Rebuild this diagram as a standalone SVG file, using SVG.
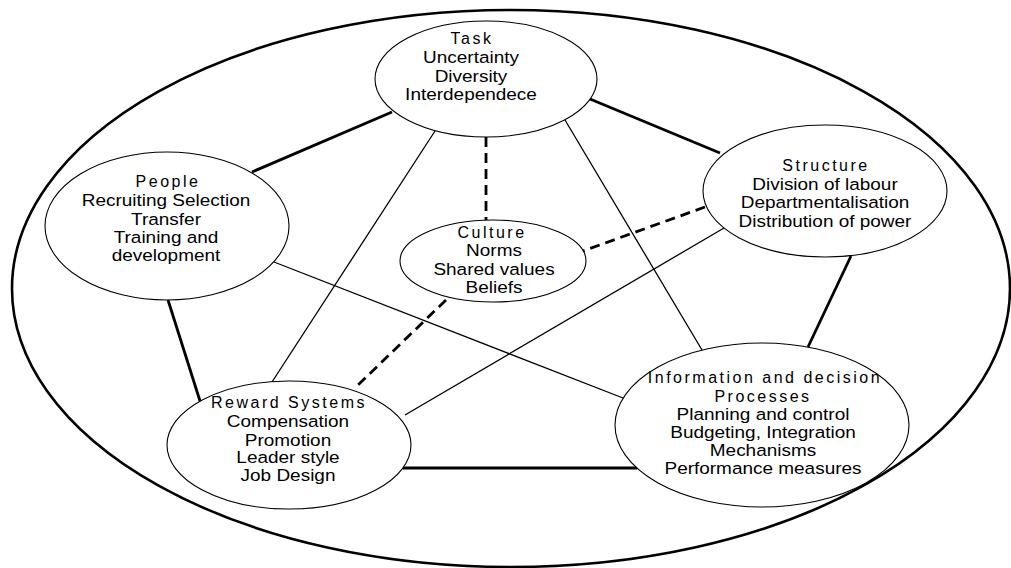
<svg xmlns="http://www.w3.org/2000/svg" width="1011" height="568" viewBox="0 0 1011 568">
<style>
.outer{fill:none;stroke:#000;stroke-width:2.6}
.node{fill:#fff;stroke:#000;stroke-width:1.1}
.thick{stroke:#000;stroke-width:2.8;fill:none}
.thin{stroke:#000;stroke-width:1.3;fill:none}
.dash{stroke:#000;stroke-width:2.8;fill:none;stroke-dasharray:10 6}
text{font-family:"Liberation Sans",Arial,sans-serif;fill:#000;text-anchor:middle}
.head{font-size:16px;letter-spacing:2.5px}
.body{font-size:16.5px}
</style>
<rect width="1011" height="568" fill="#fff"/>
<ellipse class="outer" cx="511" cy="288.5" rx="499" ry="278.5"/>
<g id="connectors">
<line class="thick" x1="392" y1="112" x2="252" y2="172"/>
<line class="thick" x1="590" y1="99" x2="720" y2="153"/>
<line class="thick" x1="851" y1="256" x2="808" y2="347"/>
<line class="thick" x1="168" y1="300" x2="200" y2="401"/>
<line class="thick" x1="403" y1="468" x2="637" y2="468"/>
<line class="thin" x1="435" y1="131" x2="272" y2="382"/>
<line class="thin" x1="565" y1="120" x2="702" y2="350"/>
<line class="thin" x1="274" y1="262" x2="623" y2="398"/>
<line class="thin" x1="724" y1="228" x2="405" y2="415"/>
<line class="dash" x1="486" y1="137" x2="486" y2="220"/>
<line class="dash" x1="705" y1="207" x2="583" y2="251"/>
<line class="dash" x1="446" y1="300" x2="357" y2="386"/>
</g>
<g id="task">
<ellipse class="node" cx="486" cy="79" rx="111" ry="58"/>
<text class="head" x="472" y="44">Task</text>
<g transform="translate(471 0) scale(1.15 1)">
<text class="body" x="0" y="63">Uncertainty</text>
<text class="body" x="0" y="82">Diversity</text>
<text class="body" x="0" y="100">Interdependece</text>
</g>
</g>
<g id="people">
<ellipse class="node" cx="167" cy="226" rx="122" ry="74"/>
<text class="head" x="168" y="187">People</text>
<g transform="translate(166 0) scale(1.15 1)">
<text class="body" x="0" y="206">Recruiting Selection</text>
<text class="body" x="0" y="225">Transfer</text>
<text class="body" x="0" y="243">Training and</text>
<text class="body" x="0" y="261">development</text>
</g>
</g>
<g id="structure">
<ellipse class="node" cx="825" cy="191" rx="122" ry="66"/>
<text class="head" x="826" y="171">Structure</text>
<g transform="translate(825 0) scale(1.15 1)">
<text class="body" x="0" y="190">Division of labour</text>
<text class="body" x="0" y="208">Departmentalisation</text>
<text class="body" x="0" y="227">Distribution of power</text>
</g>
</g>
<g id="culture">
<ellipse class="node" cx="493" cy="261" rx="93" ry="41"/>
<text class="head" x="492" y="238">Culture</text>
<g transform="translate(494 0) scale(1.15 1)">
<text class="body" x="0" y="256">Norms</text>
<text class="body" x="0" y="275">Shared values</text>
<text class="body" x="0" y="293">Beliefs</text>
</g>
</g>
<g id="reward">
<ellipse class="node" cx="289" cy="445" rx="122" ry="64"/>
<text class="head" x="289" y="408">Reward Systems</text>
<g transform="translate(288 0) scale(1.15 1)">
<text class="body" x="0" y="427">Compensation</text>
<text class="body" x="0" y="446">Promotion</text>
<text class="body" x="0" y="463">Leader style</text>
<text class="body" x="0" y="481">Job Design</text>
</g>
</g>
<g id="information">
<ellipse class="node" cx="762" cy="425" rx="147" ry="82"/>
<text class="head" x="765" y="383">Information and decision</text>
<text class="head" x="763" y="402">Processes</text>
<g transform="translate(763 0) scale(1.15 1)">
<text class="body" x="0" y="420">Planning and control</text>
<text class="body" x="0" y="438">Budgeting, Integration</text>
<text class="body" x="0" y="456">Mechanisms</text>
<text class="body" x="0" y="474">Performance measures</text>
</g>
</g>
</svg>
